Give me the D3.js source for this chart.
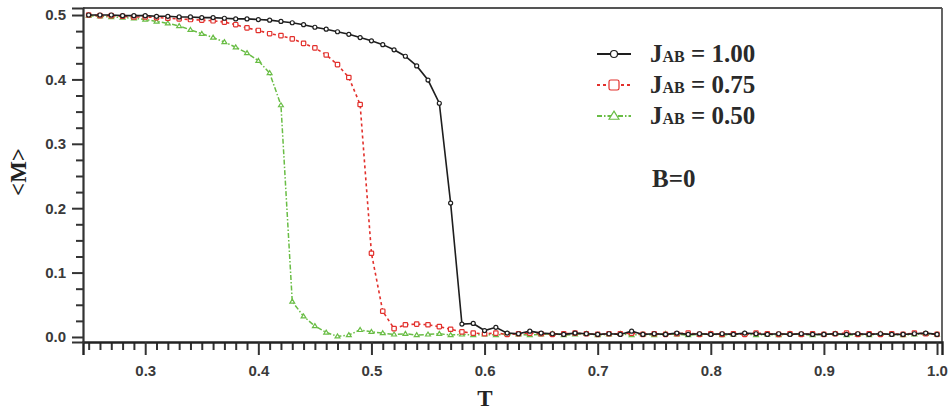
<!DOCTYPE html>
<html>
<head>
<meta charset="utf-8">
<script src="https://cdn.jsdelivr.net/npm/d3@7"></script>
<style>
html,body{margin:0;padding:0;background:#fff;}
svg{display:block;}
</style>
</head>
<body>
<svg id="chart" width="952" height="413"></svg>
<script>
const temps = [0.25,0.26,0.27,0.28,0.29,
 0.30,0.31,0.32,0.33,0.34,0.35,0.36,0.37,0.38,0.39,
 0.40,0.41,0.42,0.43,0.44,0.45,0.46,0.47,0.48,0.49,
 0.50,0.51,0.52,0.53,0.54,0.55,0.56,0.57,0.58,0.59,
 0.60,0.61,0.62,0.63,0.64,0.65,0.66,0.67,0.68,0.69,
 0.70,0.71,0.72,0.73,0.74,0.75,0.76,0.77,0.78,0.79,
 0.80,0.81,0.82,0.83,0.84,0.85,0.86,0.87,0.88,0.89,
 0.90,0.91,0.92,0.93,0.94,0.95,0.96,0.97,0.98,0.99,
 1.00];

const mJ100 = [0.500,0.500,0.500,0.499,0.499,
 0.499,0.498,0.498,0.497,0.497,0.496,0.496,0.495,0.494,0.494,
 0.493,0.492,0.490,0.488,0.485,0.481,0.478,0.474,0.470,0.465,
 0.460,0.454,0.446,0.436,0.421,0.399,0.363,0.208,0.020,0.021,
 0.010,0.015,0.006,0.005,0.009,0.006,0.005,0.004,0.006,0.005,
 0.004,0.005,0.004,0.009,0.004,0.005,0.004,0.006,0.004,0.005,
 0.004,0.005,0.004,0.006,0.005,0.004,0.005,0.004,0.005,0.004,
 0.004,0.005,0.004,0.005,0.004,0.005,0.004,0.004,0.005,0.006,
 0.004];

const mJ075 = [0.500,0.499,0.499,0.498,0.497,
 0.497,0.496,0.495,0.494,0.493,0.492,0.491,0.489,0.485,0.480,
 0.476,0.471,0.468,0.463,0.456,0.449,0.438,0.423,0.403,0.361,
 0.130,0.040,0.013,0.019,0.020,0.019,0.016,0.012,0.008,0.006,
 0.005,0.006,0.004,0.005,0.006,0.005,0.004,0.005,0.006,0.005,
 0.004,0.005,0.005,0.006,0.004,0.005,0.004,0.005,0.006,0.004,
 0.005,0.004,0.005,0.004,0.006,0.005,0.004,0.005,0.004,0.005,
 0.004,0.005,0.006,0.004,0.005,0.004,0.005,0.004,0.006,0.005,
 0.004];

const mJ050 = [0.499,0.498,0.497,0.496,0.495,
 0.493,0.490,0.487,0.483,0.477,0.471,0.465,0.458,0.450,0.441,
 0.429,0.410,0.360,0.055,0.032,0.017,0.007,0.001,0.003,0.011,
 0.008,0.006,0.004,0.005,0.003,0.004,0.005,0.003,0.004,0.003,
 0.004,0.003,0.005,0.004,0.003,0.004,0.005,0.003,0.004,0.005,
 0.003,0.004,0.005,0.003,0.004,0.003,0.005,0.004,0.003,0.004,
 0.005,0.003,0.004,0.005,0.003,0.004,0.003,0.005,0.004,0.003,
 0.004,0.005,0.003,0.004,0.003,0.005,0.004,0.003,0.004,0.005,
 0.004];

const seriesNames = ["1.00","0.75","0.50"];
const xTickValues = [0.3,0.4,0.5,0.6,0.7,0.8,0.9,1.0];
const xTickLabels = ["0.3","0.4","0.5","0.6","0.7","0.8","0.9","1.0"];
const yTickValues = [0.0,0.1,0.2,0.3,0.4,0.5];
const yTickLabels = ["0.0","0.1","0.2","0.3","0.4","0.5"];
const xLabel = "T";
const yLabel = "<M>";
const note = "B=0";

const svg = d3.select("#chart");
const L = 83, R = 942, Tp = 8, B = 342;
const x = d3.scaleLinear().domain([0.245, 1.0044]).range([L, R]);
const y = d3.scaleLinear().domain([-0.0078, 0.5109]).range([B, Tp]);

const styles = [
  {color:"#1e1e1e", dash:null, marker:"circle", width:1.6},
  {color:"#e2302c", dash:"3,3", marker:"square", width:1.6},
  {color:"#69bd45", dash:"5,2,1.5,2", marker:"triangle", width:1.5}
];
const allSeries = [mJ100, mJ075, mJ050];

// frame (top & right)
svg.append("line").attr("x1",L).attr("x2",R).attr("y1",Tp).attr("y2",Tp)
  .attr("stroke","#555").attr("stroke-width",2.2);
svg.append("line").attr("x1",R).attr("x2",R).attr("y1",Tp).attr("y2",B)
  .attr("stroke","#555").attr("stroke-width",1.8);

// x axis minor ticks
const xMinor = d3.range(25, 101).map(v => v/100).filter(v => !xTickValues.some(t => Math.abs(t-v) < 1e-6));
const xAxisMinor = d3.axisBottom(x).tickValues(xMinor).tickSize(8).tickFormat("");
const gxm = svg.append("g").attr("transform",`translate(0,${B})`).call(xAxisMinor);
gxm.select(".domain").remove();
gxm.selectAll(".tick line").attr("stroke","#333").attr("stroke-width",2);

const xAxis = d3.axisBottom(x).tickValues(xTickValues).tickSize(13).tickPadding(10)
  .tickFormat((d,i) => xTickLabels[i]);
const gx = svg.append("g").attr("transform",`translate(0,${B})`).call(xAxis);
gx.select(".domain").attr("stroke","#222").attr("stroke-width",2.4);
gx.selectAll(".tick line").attr("stroke","#333").attr("stroke-width",2);
gx.selectAll(".tick text").attr("font-family","'Liberation Sans', Arial, sans-serif")
  .attr("font-weight","bold").attr("font-size","15px").attr("fill","#3a3a3a");

// y axis
const yMinor = d3.range(0, 21).map(v => v*0.025).filter(v => !yTickValues.some(t => Math.abs(t-v) < 1e-6));
const yAxisMinor = d3.axisLeft(y).tickValues(yMinor).tickSize(7).tickFormat("");
const gym = svg.append("g").attr("transform",`translate(${L},0)`).call(yAxisMinor);
gym.select(".domain").remove();
gym.selectAll(".tick line").attr("stroke","#333").attr("stroke-width",2);

const yAxis = d3.axisLeft(y).tickValues(yTickValues).tickSize(11).tickPadding(6)
  .tickFormat((d,i) => yTickLabels[i]);
const gy = svg.append("g").attr("transform",`translate(${L},0)`).call(yAxis);
gy.select(".domain").attr("stroke","#333").attr("stroke-width",2.2);
gy.selectAll(".tick line").attr("stroke","#333").attr("stroke-width",2);
gy.selectAll(".tick text").attr("font-family","'Liberation Sans', Arial, sans-serif")
  .attr("font-weight","bold").attr("font-size","15px").attr("fill","#3a3a3a");

// axis titles
svg.append("text").attr("x",485).attr("y",406).attr("text-anchor","middle")
  .attr("font-family","'Liberation Serif', 'Times New Roman', serif").attr("font-weight","bold")
  .attr("font-size","23px").attr("fill","#222").text(xLabel);
svg.append("text").attr("transform","translate(26,172) rotate(-90)").attr("text-anchor","middle")
  .attr("font-family","'Liberation Serif', 'Times New Roman', serif").attr("font-weight","bold")
  .attr("font-size","23px").attr("fill","#222").text(yLabel);

// clip
svg.append("clipPath").attr("id","plotclip").append("rect")
  .attr("x",L).attr("y",Tp).attr("width",R-L).attr("height",B-Tp);

function drawMarker(g, type, cx, cy, s, color) {
  if (type === "circle") {
    g.append("circle").attr("cx",cx).attr("cy",cy).attr("r",s)
      .attr("fill","#fff").attr("stroke",color).attr("stroke-width",1.2);
  } else if (type === "square") {
    g.append("rect").attr("x",cx-s).attr("y",cy-s).attr("width",2*s).attr("height",2*s)
      .attr("rx",s*0.35).attr("fill","#fff").attr("stroke",color).attr("stroke-width",1.2);
  } else {
    const h = s*1.8;
    g.append("path").attr("d",`M${cx},${cy-h*0.6}L${cx+s*1.1},${cy+h*0.4}L${cx-s*1.1},${cy+h*0.4}Z`)
      .attr("fill","#fff").attr("stroke",color).attr("stroke-width",1.2);
  }
}

const plot = svg.append("g").attr("clip-path","url(#plotclip)");
const line = d3.line().x(d => x(d[0])).y(d => y(d[1]));
// draw green first, then red, then black on top
[2,1,0].forEach(si => {
  const data = temps.map((t,i) => [t, allSeries[si][i]]);
  const st = styles[si];
  plot.append("path").datum(data).attr("d",line).attr("fill","none")
    .attr("stroke",st.color).attr("stroke-width",st.width)
    .attr("stroke-dasharray",st.dash);
  const mg = plot.append("g");
  data.forEach(d => drawMarker(mg, st.marker, x(d[0]), y(d[1]), st.marker==="circle"?2:2.2, st.color));
});

// legend
const legendRows = [62, 93, 124];
const lg = svg.append("g");
seriesNames.forEach((name, i) => {
  const st = styles[i];
  const cy = legendRows[i] - 8;
  lg.append("line").attr("x1",597).attr("x2",631).attr("y1",cy).attr("y2",cy)
    .attr("stroke",st.color).attr("stroke-width",st.width+0.4).attr("stroke-dasharray",st.dash);
  drawMarker(lg, st.marker, 614, cy, st.marker==="circle"?3.5:(st.marker==="square"?5:4.5), st.color);
  const t = lg.append("text").attr("x",650).attr("y",legendRows[i])
    .attr("font-family","'Liberation Serif', 'Times New Roman', serif").attr("font-weight","bold")
    .attr("font-size","25px").attr("fill","#2a2a2a");
  t.append("tspan").text("J");
  t.append("tspan").attr("font-size","16px").text("AB");
  t.append("tspan").text(" = " + name);
});
svg.append("text").attr("x",652).attr("y",187)
  .attr("font-family","'Liberation Serif', 'Times New Roman', serif").attr("font-weight","bold")
  .attr("font-size","25px").attr("fill","#2a2a2a").text(note);
</script>
</body>
</html>
